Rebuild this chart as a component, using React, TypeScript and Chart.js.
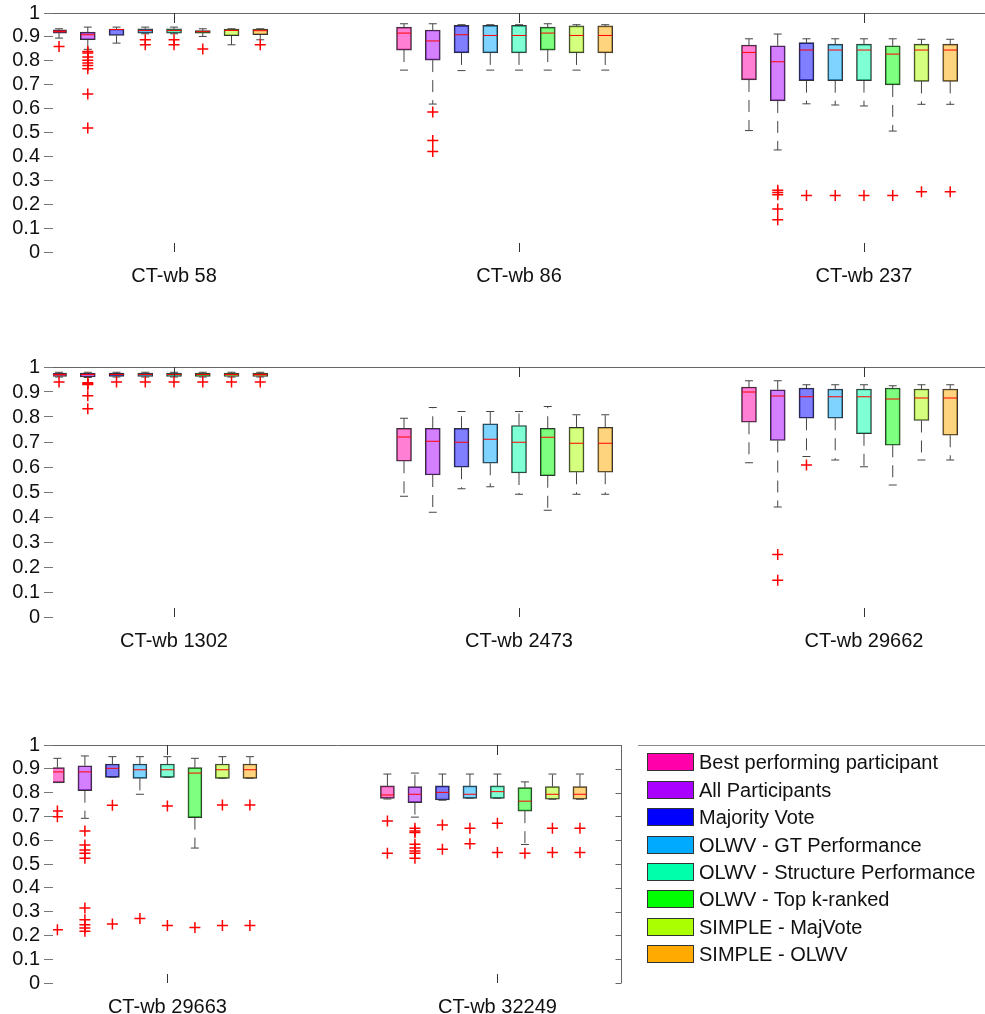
import React, { useEffect, useRef } from 'react';
import { Chart, registerables } from 'chart.js';

Chart.register(...registerables);

// ---------------- DATA ----------------
const panelLabels = [
  'CT-wb 58', 'CT-wb 86', 'CT-wb 237',
  'CT-wb 1302', 'CT-wb 2473', 'CT-wb 29662',
  'CT-wb 29663', 'CT-wb 32249',
];

const methods = [
  'Best performing participant',
  'All Participants',
  'Majority Vote',
  'OLWV - GT Performance',
  'OLWV - Structure Performance',
  'OLWV - Top k-ranked',
  'SIMPLE - MajVote',
  'SIMPLE - OLWV',
];

const methodColors = ['#FF00AA', '#AA00FF', '#0000FF', '#00AAFF', '#00FFAA', '#00FF00', '#AAFF00', '#FFAA00'];

const yTickLabels = ['0', '0.1', '0.2', '0.3', '0.4', '0.5', '0.6', '0.7', '0.8', '0.9', '1'];

// one row per panel, one value per method
const whiskerLow = [
  [0.895, 0.848, 0.874, 0.913, 0.913, 0.902, 0.867, 0.888],
  [0.761, 0.619, 0.759, 0.761, 0.761, 0.761, 0.761, 0.761],
  [0.508, 0.427, 0.620, 0.615, 0.611, 0.506, 0.618, 0.618],
  [0.960, 0.958, 0.960, 0.960, 0.960, 0.960, 0.960, 0.960],
  [0.483, 0.419, 0.513, 0.521, 0.491, 0.427, 0.491, 0.491],
  [0.617, 0.440, 0.642, 0.628, 0.601, 0.528, 0.628, 0.628],
  [0.842, 0.692, 0.864, 0.793, 0.864, 0.567, 0.860, 0.860],
  [0.773, 0.697, 0.768, 0.776, 0.776, 0.582, 0.772, 0.772],
];

const quartile1 = [
  [0.916, 0.888, 0.906, 0.916, 0.916, 0.916, 0.905, 0.909],
  [0.845, 0.803, 0.833, 0.833, 0.833, 0.845, 0.833, 0.833],
  [0.720, 0.632, 0.717, 0.717, 0.717, 0.699, 0.714, 0.714],
  [0.962, 0.960, 0.962, 0.962, 0.962, 0.962, 0.962, 0.962],
  [0.623, 0.568, 0.599, 0.615, 0.576, 0.565, 0.579, 0.579],
  [0.779, 0.706, 0.795, 0.795, 0.733, 0.687, 0.786, 0.727],
  [0.842, 0.808, 0.864, 0.860, 0.864, 0.695, 0.860, 0.860],
  [0.776, 0.758, 0.769, 0.776, 0.776, 0.722, 0.772, 0.772],
];

const medians = [
  [0.923, 0.909, 0.931, 0.927, 0.927, 0.922, 0.927, 0.926],
  [0.916, 0.883, 0.909, 0.906, 0.906, 0.916, 0.906, 0.906],
  [0.835, 0.796, 0.845, 0.845, 0.845, 0.828, 0.845, 0.845],
  [0.970, 0.970, 0.970, 0.970, 0.970, 0.970, 0.970, 0.970],
  [0.720, 0.703, 0.699, 0.711, 0.699, 0.719, 0.695, 0.695],
  [0.900, 0.884, 0.881, 0.881, 0.881, 0.872, 0.876, 0.876],
  [0.887, 0.887, 0.902, 0.896, 0.896, 0.882, 0.896, 0.896],
  [0.790, 0.793, 0.801, 0.793, 0.804, 0.764, 0.793, 0.793],
];

const quartile3 = [
  [0.930, 0.920, 0.933, 0.934, 0.934, 0.926, 0.933, 0.933],
  [0.941, 0.929, 0.948, 0.948, 0.948, 0.941, 0.946, 0.946],
  [0.866, 0.863, 0.876, 0.870, 0.870, 0.863, 0.870, 0.870],
  [0.976, 0.976, 0.976, 0.976, 0.976, 0.976, 0.976, 0.976],
  [0.755, 0.755, 0.755, 0.773, 0.766, 0.755, 0.759, 0.759],
  [0.920, 0.909, 0.916, 0.912, 0.912, 0.916, 0.912, 0.912],
  [0.905, 0.913, 0.920, 0.920, 0.920, 0.905, 0.920, 0.920],
  [0.828, 0.825, 0.828, 0.828, 0.828, 0.821, 0.825, 0.825],
];

const whiskerHigh = [
  [0.934, 0.941, 0.941, 0.941, 0.941, 0.934, 0.934, 0.934],
  [0.955, 0.955, 0.951, 0.951, 0.951, 0.955, 0.951, 0.951],
  [0.892, 0.912, 0.892, 0.892, 0.892, 0.892, 0.890, 0.890],
  [0.979, 0.979, 0.979, 0.979, 0.979, 0.979, 0.979, 0.979],
  [0.795, 0.838, 0.822, 0.822, 0.822, 0.842, 0.809, 0.809],
  [0.945, 0.945, 0.929, 0.929, 0.929, 0.925, 0.929, 0.929],
  [0.944, 0.954, 0.951, 0.951, 0.951, 0.944, 0.951, 0.951],
  [0.878, 0.882, 0.878, 0.878, 0.878, 0.845, 0.878, 0.878],
];

const outliers = [
  [[0.860], [0.839, 0.833, 0.816, 0.802, 0.791, 0.780, 0.767, 0.661, 0.519], [], [0.888, 0.867], [0.888, 0.867], [0.849], [], [0.867]],
  [[], [0.586, 0.467, 0.420], [], [], [], [], [], []],
  [[], [0.258, 0.249, 0.240, 0.180, 0.135], [0.236], [0.236], [0.236], [0.236], [0.252], [0.252]],
  [[0.940], [0.937, 0.933, 0.930, 0.885, 0.833], [0.940], [0.940], [0.940], [0.940], [0.940], [0.940]],
  [[], [], [], [], [], [], [], []],
  [[], [0.250, 0.147], [0.608], [], [], [], [], []],
  [[0.723, 0.699, 0.224], [0.639, 0.580, 0.559, 0.545, 0.524, 0.315, 0.266, 0.245, 0.231, 0.217], [0.747, 0.248], [0.271], [0.744, 0.242], [0.233], [0.748, 0.242], [0.748, 0.242]],
  [[0.681, 0.545], [0.650, 0.639, 0.632, 0.583, 0.567, 0.555, 0.545, 0.524], [0.664, 0.562], [0.650, 0.585], [0.671, 0.548], [0.545], [0.650, 0.548], [0.650, 0.548]],
];

// ---------------- LAYOUT ----------------
const GROUP_GAP = 12; // x units between group centres
const FONT = '"Liberation Sans", Arial, Helvetica, sans-serif';

const rows = [
  { panels: [0, 1, 2], top: 0, height: 290, axisHeight: 38, padRight: 0, xMin: -4.21, xMax: 28.21, barWidth: 15, rightBorder: false },
  { panels: [3, 4, 5], top: 354, height: 301, axisHeight: 38, padRight: 0, xMin: -4.21, xMax: 28.21, barWidth: 15, rightBorder: false },
  { panels: [6, 7], top: 732, height: 282, axisHeight: 31, padRight: 363, xMin: -4.16, xMax: 16.53, barWidth: 14, rightBorder: true },
];

function rgba(hex: string, a: number) {
  const n = parseInt(hex.slice(1), 16);
  return `rgba(${(n >> 16) & 255},${(n >> 8) & 255},${n & 255},${a})`;
}

const framePlugin = {
  id: 'boxFrame',
  afterDraw(chart: any, _args: any, opts: any) {
    const { ctx, chartArea } = chart;
    const { left, right, top, bottom } = chartArea;
    const xs = chart.scales.x;
    const ys = chart.scales.y;
    ctx.save();
    ctx.lineWidth = 1;
    ctx.strokeStyle = '#666';
    ctx.beginPath();
    const ty = Math.round(top) + 0.5;
    ctx.moveTo(left, ty);
    ctx.lineTo(right, ty);
    if (opts.rightBorder) {
      const rx = Math.round(right) - 0.5;
      ctx.moveTo(rx, ty);
      ctx.lineTo(rx, bottom);
      ys.ticks.forEach((t: any) => {
        const py = Math.round(ys.getPixelForValue(t.value)) + 0.5;
        ctx.moveTo(rx - 6, py);
        ctx.lineTo(rx, py);
      });
    }
    ctx.stroke();
    ctx.strokeStyle = '#333';
    ctx.beginPath();
    xs.ticks.forEach((t: any) => {
      const px = Math.round(xs.getPixelForValue(t.value)) + 0.5;
      ctx.moveTo(px, top);
      ctx.lineTo(px, top + 10);
      ctx.moveTo(px, bottom - 9);
      ctx.lineTo(px, bottom);
    });
    ctx.stroke();
    ctx.restore();
  },
};

function buildDatasets(row: any) {
  const ds: any[] = [];
  const pos = (g: number, m: number) => g * GROUP_GAP + m - 4;

  // boxes
  methods.forEach((name, m) => {
    ds.push({
      type: 'bar',
      label: name,
      data: row.panels.map((p: number, g: number) => ({ x: pos(g, m), y: [quartile1[p][m], quartile3[p][m]] })),
      backgroundColor: rgba(methodColors[m], 0.5),
      borderColor: '#333',
      borderWidth: 1,
      borderSkipped: false,
      barThickness: row.barWidth,
      grouped: false,
      order: 3,
    });
  });

  const whisk: any[] = [];
  const caps: any[] = [];
  const meds: any[] = [];
  const outs: any[] = [];
  row.panels.forEach((p: number, g: number) => {
    methods.forEach((_n, m) => {
      const x = pos(g, m);
      whisk.push({ x, y: quartile3[p][m] }, { x, y: whiskerHigh[p][m] }, { x, y: null });
      whisk.push({ x, y: quartile1[p][m] }, { x, y: whiskerLow[p][m] }, { x, y: null });
      caps.push({ x, y: whiskerHigh[p][m] }, { x, y: whiskerLow[p][m] });
      meds.push({ x, y: medians[p][m] });
      outliers[p][m].forEach((v) => outs.push({ x, y: v }));
    });
  });

  ds.push({
    type: 'line',
    label: 'whiskers',
    data: whisk,
    borderColor: '#444',
    borderWidth: 1,
    borderDash: [12, 8],
    pointRadius: 0,
    spanGaps: false,
    fill: false,
    order: 4,
  });
  ds.push({
    type: 'scatter',
    label: 'caps',
    data: caps,
    pointStyle: 'line',
    pointRadius: 4,
    pointBorderColor: '#444',
    pointBorderWidth: 1,
    order: 2,
  });
  ds.push({
    type: 'scatter',
    label: 'medians',
    data: meds,
    pointStyle: 'line',
    pointRadius: row.barWidth / 2 - 0.5,
    pointBorderColor: '#ff0000',
    pointBorderWidth: 1,
    order: 1,
  });
  ds.push({
    type: 'scatter',
    label: 'outliers',
    data: outs,
    pointStyle: 'cross',
    pointRadius: 5.5,
    pointBorderColor: '#ff0000',
    pointBorderWidth: 1.5,
    order: 0,
  });
  return ds;
}

function BoxRow({ row }: { row: any }) {
  const ref = useRef<HTMLCanvasElement | null>(null);
  useEffect(() => {
    if (!ref.current) return;
    const chart = new Chart(ref.current, {
      type: 'bar',
      data: { datasets: buildDatasets(row) },
      options: {
        responsive: false,
        animation: false,
        events: [],
        layout: { autoPadding: false, padding: { top: 13, right: row.padRight, left: 0, bottom: 0 } },
        plugins: {
          legend: { display: false },
          tooltip: { enabled: false },
          boxFrame: { rightBorder: row.rightBorder },
        } as any,
        scales: {
          x: {
            type: 'linear',
            min: row.xMin,
            max: row.xMax,
            offset: false,
            grid: { display: false },
            border: { display: false },
            afterBuildTicks: (s: any) => {
              s.ticks = row.panels.map((_p: number, g: number) => ({ value: g * GROUP_GAP }));
            },
            afterFit: (s: any) => {
              s.height = row.axisHeight;
              s.paddingLeft = 0;
              s.paddingRight = 0;
            },
            ticks: {
              autoSkip: false,
              maxRotation: 0,
              padding: 4,
              color: '#111',
              font: { family: FONT, size: 20 },
              callback: (_v: any, i: number) => panelLabels[row.panels[i]],
            },
          },
          y: {
            type: 'linear',
            min: 0,
            max: 1,
            grid: { display: true, drawOnChartArea: false, drawTicks: true, tickLength: 9, color: '#777', lineWidth: 1 },
            border: { display: false },
            afterBuildTicks: (s: any) => {
              s.ticks = yTickLabels.map((l) => ({ value: parseFloat(l) }));
            },
            afterFit: (s: any) => {
              s.width = 53;
              s.paddingTop = 0;
              s.paddingBottom = 0;
            },
            ticks: {
              autoSkip: false,
              padding: 4,
              color: '#111',
              font: { family: FONT, size: 20 },
              callback: (_v: any, i: number) => yTickLabels[i],
            },
          },
        },
      } as any,
      plugins: [framePlugin as any],
    });
    return () => chart.destroy();
  }, [row]);
  return (
    <canvas
      ref={ref}
      width={985}
      height={row.height}
      style={{ position: 'absolute', left: 0, top: row.top, width: 985, height: row.height }}
    />
  );
}

export default function App() {
  return (
    <div style={{ position: 'fixed', left: 0, top: 0, width: 985, height: 1014, background: '#fff', fontFamily: FONT, overflow: 'hidden' }}>
      {rows.map((r, i) => (
        <BoxRow key={i} row={r} />
      ))}
      <div style={{ position: 'absolute', left: 638, top: 745, width: 347, height: 0, borderTop: '1px solid #888' }} />
      {methods.map((name, i) => {
        const cy = 762.3 + i * 27.4;
        return (
          <div key={name} style={{ position: 'absolute', left: 647, top: cy - 9, height: 18, display: 'flex', alignItems: 'center', whiteSpace: 'nowrap' }}>
            <div style={{ width: 47, height: 18, boxSizing: 'border-box', border: '1px solid #333', background: methodColors[i] }} />
            <span style={{ marginLeft: 5, fontSize: 20, lineHeight: '20px', color: '#111' }}>{name}</span>
          </div>
        );
      })}
    </div>
  );
}
